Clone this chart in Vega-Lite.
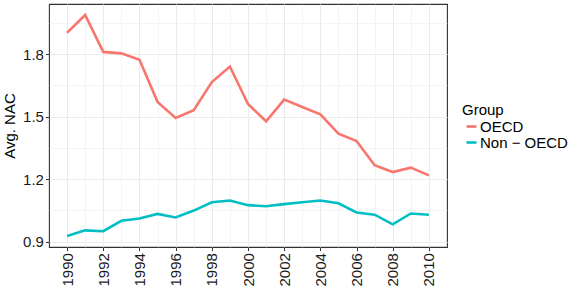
{
  "$schema": "https://vega.github.io/schema/vega-lite/v6.json",
  "width": 398,
  "height": 243,
  "autosize": {"type": "none"},
  "padding": {"left": 49, "top": 4, "right": 134, "bottom": 44},
  "background": "white",
  "config": {
    "font": "Liberation Sans",
    "view": {"stroke": "#333333", "strokeWidth": 1.1},
    "axis": {
      "domain": false,
      "gridColor": "#EBEBEB",
      "tickColor": "#333333",
      "tickSize": 3.6,
      "tickWidth": 1,
      "labelColor": "#1A1A1A",
      "labelFontSize": 15,
      "labelPadding": 2,
      "titleColor": "#000000",
      "titleFontSize": 15,
      "titleFontWeight": "normal"
    }
  },
  "data": {
    "values": [
      {"Year": 1990, "Group": "OECD", "NAC": 1.903},
      {"Year": 1991, "Group": "OECD", "NAC": 1.988},
      {"Year": 1992, "Group": "OECD", "NAC": 1.811},
      {"Year": 1993, "Group": "OECD", "NAC": 1.804},
      {"Year": 1994, "Group": "OECD", "NAC": 1.773},
      {"Year": 1995, "Group": "OECD", "NAC": 1.571},
      {"Year": 1996, "Group": "OECD", "NAC": 1.494},
      {"Year": 1997, "Group": "OECD", "NAC": 1.531},
      {"Year": 1998, "Group": "OECD", "NAC": 1.666},
      {"Year": 1999, "Group": "OECD", "NAC": 1.741},
      {"Year": 2000, "Group": "OECD", "NAC": 1.561},
      {"Year": 2001, "Group": "OECD", "NAC": 1.478},
      {"Year": 2002, "Group": "OECD", "NAC": 1.582},
      {"Year": 2003, "Group": "OECD", "NAC": 1.546},
      {"Year": 2004, "Group": "OECD", "NAC": 1.511},
      {"Year": 2005, "Group": "OECD", "NAC": 1.418},
      {"Year": 2006, "Group": "OECD", "NAC": 1.383},
      {"Year": 2007, "Group": "OECD", "NAC": 1.267},
      {"Year": 2008, "Group": "OECD", "NAC": 1.234},
      {"Year": 2009, "Group": "OECD", "NAC": 1.255},
      {"Year": 2010, "Group": "OECD", "NAC": 1.218},
      {"Year": 1990, "Group": "Non − OECD", "NAC": 0.927},
      {"Year": 1991, "Group": "Non − OECD", "NAC": 0.954},
      {"Year": 1992, "Group": "Non − OECD", "NAC": 0.950},
      {"Year": 1993, "Group": "Non − OECD", "NAC": 1.000},
      {"Year": 1994, "Group": "Non − OECD", "NAC": 1.011},
      {"Year": 1995, "Group": "Non − OECD", "NAC": 1.033},
      {"Year": 1996, "Group": "Non − OECD", "NAC": 1.016},
      {"Year": 1997, "Group": "Non − OECD", "NAC": 1.049},
      {"Year": 1998, "Group": "Non − OECD", "NAC": 1.089},
      {"Year": 1999, "Group": "Non − OECD", "NAC": 1.097},
      {"Year": 2000, "Group": "Non − OECD", "NAC": 1.075},
      {"Year": 2001, "Group": "Non − OECD", "NAC": 1.070},
      {"Year": 2002, "Group": "Non − OECD", "NAC": 1.080},
      {"Year": 2003, "Group": "Non − OECD", "NAC": 1.089},
      {"Year": 2004, "Group": "Non − OECD", "NAC": 1.097},
      {"Year": 2005, "Group": "Non − OECD", "NAC": 1.084},
      {"Year": 2006, "Group": "Non − OECD", "NAC": 1.040},
      {"Year": 2007, "Group": "Non − OECD", "NAC": 1.029},
      {"Year": 2008, "Group": "Non − OECD", "NAC": 0.983},
      {"Year": 2009, "Group": "Non − OECD", "NAC": 1.035},
      {"Year": 2010, "Group": "Non − OECD", "NAC": 1.029}
    ]
  },
  "mark": {"type": "line", "strokeWidth": 2.6},
  "encoding": {
    "x": {
      "field": "Year",
      "type": "quantitative",
      "scale": {"domain": [1989, 2011], "nice": false, "zero": false},
      "axis": {
        "title": null,
        "format": "d",
        "values": [1990, 1991, 1992, 1993, 1994, 1995, 1996, 1997, 1998, 1999, 2000, 2001, 2002, 2003, 2004, 2005, 2006, 2007, 2008, 2009, 2010],
        "labelExpr": "datum.value % 2 === 0 ? datum.label : ''",
        "labelAngle": 270,
        "labelAlign": "right",
        "labelBaseline": "middle",
        "labelFlush": false,
        "labelOverlap": false,
        "tickOpacity": {"condition": {"test": "datum.value % 2 !== 0", "value": 0}, "value": 1},
        "gridWidth": {"condition": {"test": "datum.value % 2 !== 0", "value": 0.55}, "value": 1.05}
      }
    },
    "y": {
      "field": "NAC",
      "type": "quantitative",
      "scale": {"domain": [0.874, 2.041], "nice": false, "zero": false},
      "axis": {
        "title": "Avg. NAC",
        "titlePadding": 5,
        "values": [0.9, 1.05, 1.2, 1.35, 1.5, 1.65, 1.8, 1.95],
        "labelExpr": "round(datum.value * 100) % 30 === 0 ? format(datum.value, '.1f') : ''",
        "labelOverlap": false,
        "labelFlush": false,
        "tickOpacity": {"condition": {"test": "round(datum.value * 100) % 30 !== 0", "value": 0}, "value": 1},
        "gridWidth": {"condition": {"test": "round(datum.value * 100) % 30 !== 0", "value": 0.55}, "value": 1.05}
      }
    },
    "color": {
      "field": "Group",
      "type": "nominal",
      "scale": {"domain": ["OECD", "Non − OECD"], "range": ["#F8766D", "#00BFC4"]},
      "legend": {
        "title": "Group",
        "orient": "none",
        "legendX": 413,
        "legendY": 99,
        "padding": 0,
        "titleFontSize": 15,
        "titleFontWeight": "normal",
        "titleColor": "#000000",
        "titlePadding": 1,
        "labelFontSize": 15,
        "labelColor": "#000000",
        "labelOffset": 1,
        "rowPadding": -2,
        "symbolType": "stroke",
        "symbolSize": 100,
        "symbolStrokeWidth": 2.6,
        "symbolOffset": 2
      }
    }
  }
}
